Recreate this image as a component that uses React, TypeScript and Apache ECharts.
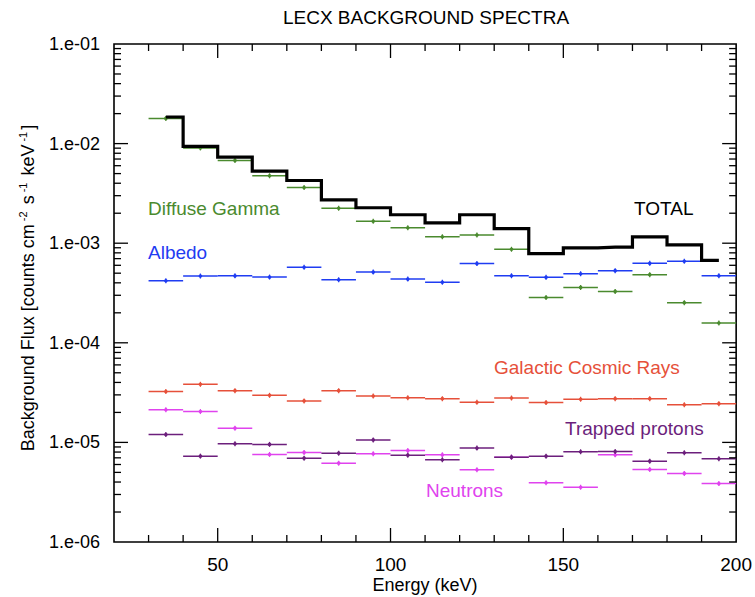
import React, { useEffect, useRef } from "react";
import * as echarts from "echarts";

// Bin centres (keV); each bin is 10 keV wide
const energies = [35, 45, 55, 65, 75, 85, 95, 105, 115, 125, 135, 145, 155, 165, 175, 185, 195];
const BIN_HALF = 5;

const total = [0.0185, 0.0094, 0.0073, 0.0053, 0.00426, 0.00272, 0.00227, 0.00193, 0.0016, 0.00193, 0.0014, 0.000787, 0.000898, 0.000912, 0.00116, 0.000962, 0.000673];
const diffuseGamma = [0.0179, 0.00905, 0.00678, 0.00475, 0.00362, 0.00224, 0.00166, 0.00143, 0.00116, 0.00121, 0.000869, 0.000285, 0.00036, 0.000328, 0.000483, 0.000253, 0.000158];
const albedo = [0.00042, 0.000468, 0.00047, 0.000457, 0.000573, 0.00043, 0.000513, 0.000436, 0.000406, 0.000624, 0.000471, 0.000454, 0.000494, 0.00053, 0.000628, 0.000658, 0.000471];
const cosmicRays = [3.24e-5, 3.83e-5, 3.31e-5, 2.97e-5, 2.61e-5, 3.31e-5, 2.92e-5, 2.81e-5, 2.75e-5, 2.53e-5, 2.79e-5, 2.51e-5, 2.71e-5, 2.75e-5, 2.75e-5, 2.39e-5, 2.45e-5];
const neutrons = [2.13e-5, 2.04e-5, 1.39e-5, 7.57e-6, 7.93e-6, 6.19e-6, 7.69e-6, 8.3e-6, 7.5e-6, 5.31e-6, 7.11e-6, 3.93e-6, 3.55e-6, 7.5e-6, 5.35e-6, 4.88e-6, 3.86e-6];
const trappedProtons = [1.2e-5, 7.28e-6, 9.7e-6, 9.55e-6, 6.95e-6, 7.8e-6, 1.06e-5, 7.45e-6, 6.7e-6, 8.77e-6, 7.11e-6, 7.28e-6, 8.06e-6, 8.1e-6, 6.48e-6, 7.87e-6, 6.86e-6];

// Axis ranges and tick values
const X_MIN = 20;
const X_MAX = 200;
const Y_MIN = 1e-6;
const Y_MAX = 1e-1;
const xMajorTicks = [50, 100, 150];
const xMinorTicks = [30, 40, 60, 70, 80, 90, 110, 120, 130, 140, 160, 170, 180, 190];
const yMajorTicks = [1e-5, 1e-4, 1e-3, 1e-2];
const yDecades = [1e-6, 1e-5, 1e-4, 1e-3, 1e-2];
const yMinorMultipliers = [2, 3, 4, 5, 6, 7, 8, 9];

const FONT = "Liberation Sans, Arial, Helvetica, sans-serif";
const C_GREEN = "#4a8a2e";
const C_BLUE = "#1f3cf2";
const C_RED = "#e6503a";
const C_PURPLE = "#6c1f7c";
const C_MAGENTA = "#e043ee";

function binSeries(name: string, values: number[], color: string, z: number) {
  return {
    type: "custom",
    name,
    silent: true,
    z,
    data: energies.map((e, i) => [e, values[i]]),
    renderItem: (_params: any, api: any) => {
      const x = api.value(0);
      const v = api.value(1);
      const l = api.coord([x - BIN_HALF, v]);
      const r = api.coord([x + BIN_HALF, v]);
      const c = api.coord([x, v]);
      return {
        type: "group",
        children: [
          { type: "line", shape: { x1: l[0], y1: l[1], x2: r[0], y2: r[1] }, style: { stroke: color, lineWidth: 1.5 } },
          { type: "line", shape: { x1: c[0], y1: c[1] - 2.5, x2: c[0], y2: c[1] + 2.5 }, style: { stroke: color, lineWidth: 1.2 } },
          { type: "circle", shape: { cx: c[0], cy: c[1], r: 1.8 }, style: { fill: color } },
        ],
      };
    },
  };
}

const MAJOR_LEN = 14;
const MINOR_LEN = 7;

function xTickSeries() {
  const ticks = [...xMajorTicks.map((v) => [v, Y_MIN, 1]), ...xMinorTicks.map((v) => [v, Y_MIN, 0])];
  return {
    type: "custom",
    silent: true,
    z: 10,
    data: ticks,
    renderItem: (_params: any, api: any) => {
      const v = api.value(0);
      const major = api.value(2) === 1;
      const len = major ? MAJOR_LEN : MINOR_LEN;
      const b = api.coord([v, Y_MIN]);
      const t = api.coord([v, Y_MAX]);
      return {
        type: "group",
        children: [
          { type: "line", shape: { x1: b[0], y1: b[1], x2: b[0], y2: b[1] - len }, style: { stroke: "#000", lineWidth: 1.3 } },
          { type: "line", shape: { x1: t[0], y1: t[1], x2: t[0], y2: t[1] + len }, style: { stroke: "#000", lineWidth: 1.3 } },
        ],
      };
    },
  };
}

function yTickSeries() {
  const minors: number[][] = [];
  yDecades.forEach((d) => yMinorMultipliers.forEach((m) => minors.push([X_MIN, m * d, 0])));
  const ticks = [...yMajorTicks.map((v) => [X_MIN, v, 1]), ...minors];
  return {
    type: "custom",
    silent: true,
    z: 10,
    data: ticks,
    renderItem: (_params: any, api: any) => {
      const v = api.value(1);
      const major = api.value(2) === 1;
      const len = major ? MAJOR_LEN : MINOR_LEN;
      const l = api.coord([X_MIN, v]);
      const r = api.coord([X_MAX, v]);
      return {
        type: "group",
        children: [
          { type: "line", shape: { x1: l[0], y1: l[1], x2: l[0] + len, y2: l[1] }, style: { stroke: "#000", lineWidth: 1.3 } },
          { type: "line", shape: { x1: r[0], y1: r[1], x2: r[0] - len, y2: r[1] }, style: { stroke: "#000", lineWidth: 1.3 } },
        ],
      };
    },
  };
}

function label(text: string, x: number, y: number, color: string, size = 19) {
  return {
    type: "text",
    x,
    y,
    z: 20,
    style: { text, fill: color, font: `${size}px ${FONT}`, textAlign: "left", textVerticalAlign: "middle" },
  };
}

export default function App() {
  const ref = useRef<HTMLDivElement>(null);
  useEffect(() => {
    if (!ref.current) return;
    const chart = echarts.init(ref.current, undefined, { renderer: "svg" });
    const option: any = {
      animation: false,
      backgroundColor: "#fff",
      grid: {
        left: 114,
        right: 17,
        top: 44,
        bottom: 55,
        show: true,
        borderColor: "#000",
        borderWidth: 1.6,
        backgroundColor: "transparent",
      },
      xAxis: {
        type: "value",
        min: X_MIN,
        max: X_MAX,
        interval: 10,
        axisLine: { show: false },
        axisTick: { show: false },
        splitLine: { show: false },
        axisLabel: {
          margin: 13,
          color: "#000",
          fontSize: 19,
          fontFamily: FONT,
          formatter: (v: number) => (v % 50 === 0 ? String(v) : ""),
        },
      },
      yAxis: {
        type: "log",
        logBase: 10,
        min: Y_MIN,
        max: Y_MAX,
        axisLine: { show: false },
        axisTick: { show: false },
        splitLine: { show: false },
        minorTick: { show: false },
        axisLabel: {
          margin: 14,
          color: "#000",
          fontSize: 18,
          fontFamily: FONT,
          formatter: (v: number) => {
            const e = Math.round(Math.log10(v));
            const s = String(Math.abs(e)).padStart(2, "0");
            return `1.e${e < 0 ? "-" : "+"}${s}`;
          },
        },
      },
      series: [
        xTickSeries(),
        yTickSeries(),
        binSeries("Albedo", albedo, C_BLUE, 3),
        binSeries("Galactic Cosmic Rays", cosmicRays, C_RED, 3),
        binSeries("Neutrons", neutrons, C_MAGENTA, 3),
        binSeries("Trapped protons", trappedProtons, C_PURPLE, 4),
        binSeries("Diffuse Gamma", diffuseGamma, C_GREEN, 4),
        {
          type: "line",
          name: "TOTAL",
          step: "middle",
          showSymbol: false,
          symbol: "none",
          silent: true,
          z: 6,
          data: energies.map((e, i) => [e, total[i]]),
          lineStyle: { color: "#000", width: 3.2, join: "miter" },
        },
      ],
      graphic: [
        {
          type: "text",
          x: 426,
          y: 17,
          style: { text: "LECX BACKGROUND SPECTRA", fill: "#000", font: `19px ${FONT}`, textAlign: "center", textVerticalAlign: "middle" },
        },
        {
          type: "text",
          x: 425,
          y: 585,
          style: { text: "Energy (keV)", fill: "#000", font: `18px ${FONT}`, textAlign: "center", textVerticalAlign: "middle" },
        },
        {
          type: "text",
          x: 27,
          y: 288,
          rotation: Math.PI / 2,
          style: {
            text: "{n|Background Flux [counts cm}{s|-2}{n| s}{s|-1}{n| keV}{s|-1}{n|]}",
            align: "center",
            verticalAlign: "middle",
            rich: {
              n: { fontSize: 18, fontFamily: FONT, fill: "#000", lineHeight: 20, verticalAlign: "bottom" },
              s: { fontSize: 11, fontFamily: FONT, fill: "#000", lineHeight: 11, verticalAlign: "top", padding: [0, 2, 6, 3] },
            },
          },
        },
        label("Diffuse Gamma", 148, 208, C_GREEN),
        label("Albedo", 148, 252, C_BLUE),
        label("TOTAL", 634, 208, "#000"),
        label("Galactic Cosmic Rays", 494, 367, C_RED),
        label("Trapped protons", 565, 428, C_PURPLE),
        label("Neutrons", 426, 490, C_MAGENTA),
      ],
    };
    chart.setOption(option);
    return () => chart.dispose();
  }, []);
  return <div ref={ref} style={{ position: "fixed", left: 0, top: 0, width: 755, height: 597, background: "#fff" }} />;
}
